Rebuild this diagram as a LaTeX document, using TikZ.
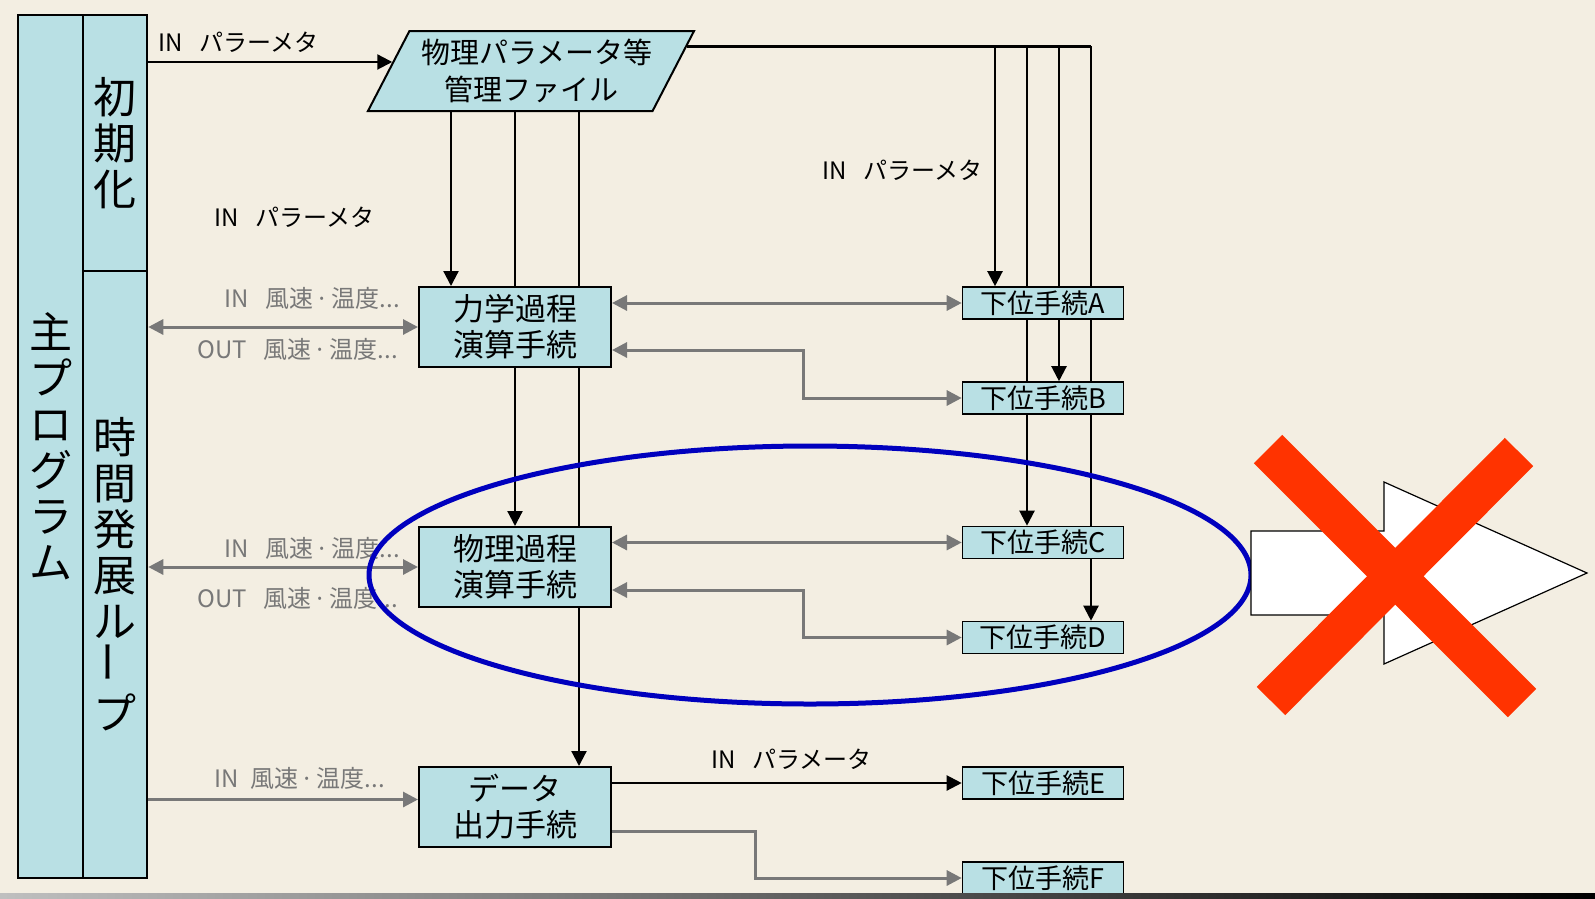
\documentclass[tikz,border=0pt]{standalone}
\usepackage{fontspec}
\setmainfont{Noto Sans CJK JP}
\usetikzlibrary{calc,positioning,shapes.geometric,arrows.meta,backgrounds}
\definecolor{paper}{RGB}{243,238,226}
\definecolor{boxc}{RGB}{185,224,228}
\definecolor{grayln}{RGB}{120,120,120}
\definecolor{ringc}{RGB}{0,0,190}
\definecolor{crossc}{RGB}{255,51,0}

\begin{document}
\begin{tikzpicture}[x=1pt,y=-1pt,>={Triangle[length=15pt,width=15pt]}]
\tikzstyle{bar}=[draw, fill=boxc, line width=2pt, inner sep=0pt, align=center, font=\fontsize{43}{46}\selectfont]
\tikzstyle{proc}=[draw, fill=boxc, line width=2pt, minimum width=192pt, minimum height=80pt, inner sep=0pt, align=center, font=\fontsize{31}{36}\selectfont, node distance=240pt]
\tikzstyle{sub}=[draw, fill=boxc, line width=1.6pt, minimum width=161pt, minimum height=32pt, inner sep=0pt, font=\fontsize{27}{28}\selectfont, node distance=95pt]
\tikzstyle{lbl}=[inner sep=0pt, font=\fontsize{24}{26}\selectfont]
\tikzstyle{glbl}=[lbl, text=grayln]
\tikzstyle{arr}=[line width=2.2pt, ->]
\tikzstyle{garr}=[draw=grayln, line width=3pt]

\useasboundingbox (0,0) rectangle (1595,898);

% left column
\node[bar, minimum width=65pt, minimum height=863pt] (main) at (50.5,446.5) {主\\プ\\ロ\\グ\\ラ\\ム};
\node[bar, minimum width=64.5pt, minimum height=256pt] (init) at (115,143) {初\\期\\化};
\node[bar, minimum width=64.5pt, minimum height=607pt] (loop) at (115,574.5) {時\\間\\発\\展\\ル\\\rotatebox{90}{ー}\\プ};

% parameter file
\node[trapezium, trapezium left angle=57, trapezium right angle=123, trapezium stretches=true, draw, fill=boxc, line width=2pt, minimum width=320pt, minimum height=80pt, inner sep=0pt, align=center, font=\fontsize{29}{37}\selectfont] (file) at (531,71) {\hspace{12pt}物理パラメータ等\\管理ファイル};

% procedures
\node[proc] (dyn) at (515,327) {力学過程\\演算手続};
\node[proc, below of = dyn] (phy) {物理過程\\演算手続};
\node[proc, below of = phy] (out) {データ\\出力手続};

\node[sub] (A) at (1043,303) {下位手続A};
\node[sub, below of = A] (B) {下位手続B};
\node[sub] (C) at (1043,542.5) {下位手続C};
\node[sub, below of = C] (D) {下位手続D};
\node[sub] (E) at (1043,783) {下位手続E};
\node[sub, below of = E] (F) {下位手続F};

% labels
\node[lbl, anchor=west] (l1) at (158,42) {IN\hspace{0.7em}パラーメタ};
\node[lbl, anchor=west] (l2) at (214,217) {IN\hspace{0.7em}パラーメタ};
\node[lbl, anchor=west] (l3) at (822,170) {IN\hspace{0.7em}パラーメタ};
\node[lbl, anchor=west] (l4) at (711,759) {IN\hspace{0.7em}パラメータ};
\node[glbl, anchor=east] (g1) at (400,298) {IN\hspace{0.7em}風速\hspace{0.1em}·\hspace{0.1em}温度...};
\node[glbl, anchor=east] (g2) at (398,349) {OUT\hspace{0.7em}風速\hspace{0.1em}·\hspace{0.1em}温度...};
\node[glbl, anchor=east] (g3) at (400,548) {IN\hspace{0.7em}風速\hspace{0.1em}·\hspace{0.1em}温度...};
\node[glbl, anchor=east] (g4) at (398,598) {OUT\hspace{0.7em}風速\hspace{0.1em}·\hspace{0.1em}温度...};
\node[glbl, anchor=east] (g5) at (385,778) {IN\hspace{0.5em}風速\hspace{0.1em}·\hspace{0.1em}温度...};

\coordinate (fl) at ($(file.top left corner)!0.39!(file.bottom left corner)$);
\coordinate (fr) at ($(file.top right corner)!0.2!(file.bottom right corner)$);
\coordinate (c1) at (451,0);
\coordinate (c3) at (579,0);
\coordinate (r1) at (995,0);
\coordinate (r2) at (1027,0);
\coordinate (r3) at (1059,0);
\coordinate (r4) at (1091,0);
\coordinate (e1) at (803,0);
\coordinate (e3) at (755,0);
\coordinate (ob) at ([yshift=7.5pt]out.west);

\begin{scope}[on background layer]
\fill[paper] (0,0) rectangle (1595,898);
\draw[arr] (init.east |- fl) -- (fl);
\draw[arr] (file.south -| c1) -- (dyn.north -| c1);
\draw[arr] (file.south -| dyn.north) -- (phy.north);
\draw[arr] (file.south -| c3) -- (out.north -| c3);
\draw[line width=2.2pt] (fr) -- (fr -| r4);
\draw[arr] (fr -| r1) -- (A.north -| r1);
\draw[arr] (fr -| r2) -- (C.north -| r2);
\draw[arr] (fr -| r3) -- (B.north -| r3);
\draw[arr] (fr -| r4) -- (D.north -| r4);
\draw[garr, <->] (loop.east |- dyn.west) -- (dyn.west);
\draw[garr, <->] (loop.east |- phy.west) -- (phy.west);
\draw[garr, ->] (loop.east |- ob) -- (ob);
\draw[garr, <->] (dyn.east |- A.west) -- (A.west);
\draw[garr, <->] ([yshift=-23pt]dyn.east) -| (e1 |- B.west) -- (B.west);
\draw[garr, <->] (phy.east |- C.west) -- (C.west);
\draw[garr, <->] ([yshift=-23pt]phy.east) -| (e1 |- D.west) -- (D.west);
\draw[arr] (out.east |- E.west) -- (E.west);
\draw[garr, ->] ([yshift=-24.5pt]out.east) -| (e3 |- F.west) -- (F.west);
\end{scope}

% ring, arrow and cross
\draw[ringc, line width=5pt] (810,575) ellipse [x radius=441, y radius=129];
\draw[fill=white, line width=1.2pt] (1251,531) -- (1384,531) -- (1384,482) -- (1587,573) -- (1384,664) -- (1384,615) -- (1251,615) -- cycle;
\draw[crossc, line width=40pt] (1268,449) -- (1522,703);
\draw[crossc, line width=40pt] (1519,452) -- (1271,701);

\shade[left color=black!25, right color=black] (0,893) rectangle (1595,898);
\end{tikzpicture}
\end{document}
